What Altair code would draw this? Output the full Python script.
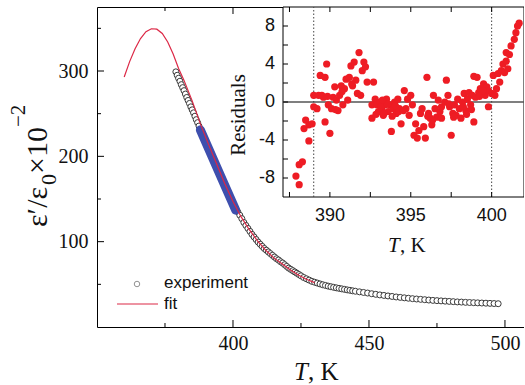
import altair as alt
import pandas as pd

# ---------------- main panel data ----------------
exp_T = [379.0, 379.5, 380.0, 380.5, 381.0, 381.5, 382.0, 382.5, 383.0, 383.5,
         384.0, 384.5, 385.0, 385.5, 386.0, 386.5, 387.0, 387.5, 388.0,
         389.5, 391.0, 392.5, 394.0, 395.5, 397.0, 398.5, 400.0,
         401.0, 401.75, 402.5, 403.25, 404.0, 404.75, 405.5, 406.25, 407.0, 407.75,
         408.5, 409.25, 410.0, 410.75, 411.5, 412.25, 413.0, 413.75, 414.5, 415.25,
         416.0, 416.75, 417.5, 418.25, 419.0, 419.75, 420.5, 421.25, 422.0, 422.75,
         423.5, 424.25, 425.0,
         426.0, 427.0, 428.0, 429.0, 430.0, 431.0, 432.0, 433.0, 434.0, 435.0,
         436.0, 437.0, 438.0, 439.0, 440.0, 441.0, 442.0, 443.0, 444.0, 445.0,
         446.5, 448.0, 449.5, 451.0, 452.5, 454.0, 455.5, 457.0, 458.5, 460.0,
         461.5, 463.0, 464.5, 466.0, 467.5, 469.0, 470.5, 472.0, 473.5, 475.0,
         476.5, 478.0, 479.5, 481.0, 482.5, 484.0, 485.5, 487.0, 488.5, 490.0,
         491.5, 493.0, 494.5, 496.0, 497.5]
exp_eps = [299, 295, 291.5, 288, 284, 280.5, 277, 273, 269, 265.5,
           262, 258, 254.5, 251, 247, 243, 239.5, 235.5, 231.5,
           220, 209, 198, 188, 177, 166, 155, 145,
           139, 135, 131, 127, 122.5, 119, 115.5, 112, 108.5, 105.5,
           102.5, 99.5, 97, 94.5, 92, 90, 88, 86, 84, 82,
           80, 78.5, 76.5, 75, 73, 71, 69, 67.5, 66, 64.5,
           63, 61.5, 60,
           58, 56.5, 55, 53.5, 52.5, 51.5, 50.5, 49.5, 48.7, 47.9,
           47.2, 46.5, 45.9, 45.3, 44.7, 44.1, 43.5, 43, 42.4, 41.9,
           41.2, 40.5, 39.8, 39, 38.3, 37.6, 37, 36.4, 35.8, 35.2,
           34.7, 34.2, 33.7, 33.2, 32.8, 32.4, 32, 31.6, 31.2, 30.9,
           30.6, 30.3, 30, 29.7, 29.4, 29.2, 28.9, 28.7, 28.5, 28.3,
           28.1, 27.9, 27.7, 27.5, 27.3]

band_T = [388.0, 392.0, 396.0, 401.0]
band_eps = [231, 202, 173, 137]

fit_T = [360, 362, 364, 366, 368, 370, 372, 374, 376, 378, 380, 382, 385, 388,
         391, 394, 397, 400, 403, 406, 409, 412, 415, 418, 421, 424, 427, 430]
fit_eps = [293, 311, 326, 338, 346, 349.5, 349, 344, 334, 320, 303, 289, 265, 238,
           214, 191, 168, 147, 129, 114, 101, 90, 81, 74, 67, 61, 56, 52]

x_major = [400, 450, 500]
x_minor = [375, 425, 475]
y_major = [100, 200, 300]
y_minor = [50, 150, 250, 350]

legend_labels = ["experiment", "fit"]

# ---------------- inset (residuals) data ----------------
res_T = [387.9, 388.1, 388.1, 388.3, 388.4, 388.5, 388.7, 388.7, 388.9, 389.0,
         389.0, 389.2, 389.3, 389.4, 389.5, 389.6, 389.7, 389.7, 389.8, 389.9,
         390.0, 390.1, 390.2, 390.3, 390.4, 390.5, 390.6, 390.7, 390.8, 390.9,
         391.0, 391.1, 391.2, 391.3, 391.4, 391.5, 391.6, 391.7, 391.8, 391.9,
         392.0, 392.1, 392.2, 392.3, 392.6, 392.6, 392.7, 392.8, 392.9, 393.0,
         393.1, 393.2, 393.3, 393.4, 393.5, 393.6, 393.7, 393.8, 393.9, 394.0,
         394.1, 394.2, 394.3, 394.4, 394.6, 394.7, 394.8, 394.9, 395.0, 395.1,
         395.2, 395.3, 395.4, 395.5, 395.6, 395.7, 395.8, 395.9, 396.0, 396.1,
         396.2, 396.3, 396.4, 396.5, 396.6, 396.7, 396.8, 396.9, 396.9, 397.1,
         397.2, 397.3, 397.4, 397.5, 397.6, 397.7, 397.8, 397.9, 398.0, 398.1,
         398.2, 398.3, 398.4, 398.5, 398.6, 398.7, 398.8, 398.9, 398.9, 399.0,
         399.1, 399.2, 399.3, 399.5, 399.6, 399.7, 399.8, 399.8, 400.0, 400.1,
         400.2, 400.3, 400.4, 400.5, 400.6, 400.7, 400.8, 400.9, 400.9, 401.0,
         401.1, 401.2, 401.4, 401.5, 401.6, 401.7,
         393.15, 393.35, 393.55, 393.85, 394.05, 394.25, 393.25, 392.85, 394.55,
         396.35, 396.05, 397.35, 397.65, 398.25, 398.45, 398.75, 399.25, 399.45,
         390.35, 390.75, 391.35, 389.85]
res_val = [-7.8, -8.7, -6.6, -6.3, -2.8, -1.9, -2.4, -4.1, -2.3, 0.7,
           -0.5, -0.7, 0.7, 2.8, 0.7, 0.5, 2.6, -2.1, 4.0, -0.3,
           -3.3, -0.7, 0.5, 1.6, 0.2, -0.9, 0.7, 1.7, -0.3, 1.4,
           2.4, 0.2, 2.6, 3.8, 1.7, 4.2, 2.3, 0.9, 5.2, 0.7,
           3.3, 4.2, 3.7, 2.1, -0.3, -1.7, 2.1, 0.3, -0.3, -1.0,
           0.0, -0.7, -1.4, -0.3, 0.3, -1.0, -0.3, -3.1, -0.7, 0.0,
           -1.2, 0.3, -0.7, -2.3, 1.2, -0.7, 0.3, -1.4, 0.7, -0.3,
           -3.5, -2.3, -3.8, -3.0, -1.2, -0.7, -2.6, -3.8, 2.6, -1.2,
           -1.7, -2.4, 0.7, -0.7, -1.6, 0.2, -1.0, -0.5, -1.7, 0.0,
           2.3, 0.7, -0.5, -3.5, -1.2, -0.3, -1.4, 0.3, -0.7, -1.7,
           0.0, 0.9, -0.9, 0.3, 1.0, -0.3, 0.7, 2.7, -2.1, 0.5,
           2.6, 1.0, 1.4, 1.9, 0.7, 1.6, 1.2, -0.5, 0.9, 2.8,
           0.7, 1.4, 3.0, 2.1, 3.3, 4.0, 3.1, 4.3, 5.2, 3.5,
           5.0, 5.9, 6.6, 7.3, 8.0, 8.3,
           -0.5, -1.2, -0.2, -1.5, -0.4, -1.0, 0.2, -1.3, -0.9,
           -1.9, -1.5, -0.2, -1.6, -0.5, -1.3, -0.8, 0.6, 1.2,
           -0.8, 1.1, 1.9, 0.6]

inset_x_domain = [387.1, 402.0]
inset_y_domain = [-10, 10]
inset_x_ticks = [387.5, 390, 392.5, 395, 397.5, 400]
inset_x_labels = [390, 395, 400]
inset_y_ticks = [-8, -6, -4, -2, 0, 2, 4, 6, 8]
inset_y_labels = [-8, -4, 0, 4, 8]
inset_y_label_text = ["-8", "-4", "0", "4", "8"]
dotted_T = [389.0, 400.0]

# ---------------- layout constants ----------------
W, H = 427, 320
IX0, IX1 = 186, 427      # inset pixel range inside plot area
IY0, IY1 = 0, 190

SERIF = "Liberation Serif"
SANS = "Liberation Sans"
RED_FIT = "#dc2846"
RED_DOT = "#ee1c24"
BLUE = "#3e4fae"
CIRC = "#3a3a3a"

xs = alt.Scale(domain=[350, 507])
ys = alt.Scale(domain=[0, 375])
x_axis = alt.Axis(values=x_major, ticks=False, tickSize=0, domain=False, grid=False,
                  labelFont=SERIF, labelFontSize=20, labelColor="#111",
                  labelPadding=6, title=None)
y_axis = alt.Axis(values=y_major, ticks=False, tickSize=0, domain=False, grid=False,
                  labelFont=SERIF, labelFontSize=20, labelColor="#111",
                  labelPadding=9, title=None)


def MX(f):
    return alt.X(f, type="quantitative", scale=xs, axis=x_axis)


def MY(f):
    return alt.Y(f, type="quantitative", scale=ys, axis=y_axis)


exp_df = pd.DataFrame({"T": exp_T, "eps": exp_eps})
band_df = pd.DataFrame({"T": band_T, "eps": band_eps})
fit_df = pd.DataFrame({"T": fit_T, "eps": fit_eps})

exp_layer = alt.Chart(exp_df).mark_point(
    shape="circle", size=36, filled=False, fill="white", fillOpacity=1,
    stroke=CIRC, strokeWidth=1, opacity=1
).encode(x=MX("T"), y=MY("eps"))

band_layer = alt.Chart(band_df).mark_line(
    color=BLUE, strokeWidth=9, strokeCap="round"
).encode(x=MX("T"), y=MY("eps"))

fit_layer = alt.Chart(fit_df).mark_line(
    color=RED_FIT, strokeWidth=1.2
).encode(x=MX("T"), y=MY("eps"))

xmaj_df = pd.DataFrame({"v": x_major})
xmin_df = pd.DataFrame({"v": x_minor})
ymaj_df = pd.DataFrame({"v": y_major})
ymin_df = pd.DataFrame({"v": y_minor})


def xticks(df, L):
    bot = alt.Chart(df).mark_rule(color="black", strokeWidth=1).encode(
        x=MX("v"), y=alt.value(H), y2=alt.value(H - L))
    top = alt.Chart(df).mark_rule(color="black", strokeWidth=1).encode(
        x=MX("v"), y=alt.value(0), y2=alt.value(L))
    return [bot, top]


def yticks(df, L):
    left = alt.Chart(df).mark_rule(color="black", strokeWidth=1).encode(
        y=MY("v"), x=alt.value(0), x2=alt.value(L))
    return [left]


tick_layers = xticks(xmaj_df, 7) + xticks(xmin_df, 4) + yticks(ymaj_df, 7) + yticks(ymin_df, 4)

# legend
leg_circle = alt.Chart(pd.DataFrame({"label": [legend_labels[0]]})).mark_point(
    shape="circle", size=30, filled=False, stroke="#666666", strokeWidth=1
).encode(x=alt.value(40), y=alt.value(277))
leg_line = alt.Chart(pd.DataFrame({"label": [legend_labels[1]]})).mark_rule(
    color=RED_FIT, strokeWidth=1.2
).encode(x=alt.value(20), x2=alt.value(61), y=alt.value(297))
leg_text1 = alt.Chart(pd.DataFrame({"label": [legend_labels[0]]})).mark_text(
    font=SANS, fontSize=17, align="left", baseline="middle", color="#111"
).encode(x=alt.value(67), y=alt.value(276), text="label:N")
leg_text2 = alt.Chart(pd.DataFrame({"label": [legend_labels[1]]})).mark_text(
    font=SANS, fontSize=17, align="left", baseline="middle", color="#111"
).encode(x=alt.value(67), y=alt.value(297), text="label:N")


def txt(s, x, y, size, font=SERIF, style="normal", angle=0, align="left", baseline="alphabetic"):
    kw = dict(font=font, fontSize=size, align=align, baseline=baseline, color="#111")
    if style != "normal":
        kw["fontStyle"] = style
    if angle:
        kw["angle"] = angle
    return alt.Chart(pd.DataFrame({"s": [s]})).mark_text(**kw).encode(
        x=alt.value(x), y=alt.value(y), text="s:N")


# y title pieces (rotated)
ytitle = [
    txt("ε′/ε", -50, 220, 30, angle=270),
    txt("0", -41, 178, 22, angle=270),
    txt("×10", -50, 167, 30, angle=270),
    txt("−2", -72, 120, 21, angle=270),
]
# x title
xtitle = [
    txt("T", 197, 373, 25, style="italic"),
    txt(", K", 211, 373, 25),
]

main = alt.layer(exp_layer, band_layer, fit_layer, *tick_layers,
                 leg_circle, leg_line, leg_text1, leg_text2, *ytitle, *xtitle)

# ---------------- inset ----------------
ixs = alt.Scale(domain=inset_x_domain, range=[IX0, IX1])
iys = alt.Scale(domain=inset_y_domain, range=[IY1, IY0])


def IX(f):
    return alt.X(f, type="quantitative", scale=ixs, axis=None)


def IY(f):
    return alt.Y(f, type="quantitative", scale=iys, axis=None)


dom_df = pd.DataFrame({"x0": [inset_x_domain[0]], "x1": [inset_x_domain[1]],
                       "y0": [inset_y_domain[0]], "y1": [inset_y_domain[1]]})
inset_bg = alt.Chart(dom_df).mark_rect(fill="white", stroke="black", strokeWidth=1).encode(
    x=IX("x0"), x2="x1", y=IY("y0"), y2="y1")

zero_df = pd.DataFrame({"x0": [inset_x_domain[0]], "x1": [inset_x_domain[1]], "z": [0]})
zero_line = alt.Chart(zero_df).mark_rule(color="#555555", strokeWidth=1.5).encode(
    x=IX("x0"), x2="x1", y=IY("z"))

dot_df = pd.DataFrame({"T": dotted_T, "y0": [inset_y_domain[0]] * 2, "y1": [inset_y_domain[1]] * 2})
dotted = alt.Chart(dot_df).mark_rule(color="#444444", strokeWidth=1, strokeDash=[1.5, 2]).encode(
    x=IX("T"), y=IY("y0"), y2="y1")

res_df = pd.DataFrame({"T": res_T, "r": res_val})
res_pts = alt.Chart(res_df).mark_circle(size=52, color=RED_DOT, opacity=1).encode(
    x=IX("T"), y=IY("r"))

ixt_df = pd.DataFrame({"v": inset_x_ticks})
iyt_df = pd.DataFrame({"v": inset_y_ticks})
in_ticks = [
    alt.Chart(ixt_df).mark_rule(color="black").encode(x=IX("v"), y=alt.value(IY1), y2=alt.value(IY1 - 5)),
    alt.Chart(ixt_df).mark_rule(color="black").encode(x=IX("v"), y=alt.value(IY0), y2=alt.value(IY0 + 5)),
    alt.Chart(iyt_df).mark_rule(color="black").encode(y=IY("v"), x=alt.value(IX0), x2=alt.value(IX0 + 5)),
]

ixl_df = pd.DataFrame({"v": inset_x_labels, "s": [str(v) for v in inset_x_labels]})
iyl_df = pd.DataFrame({"v": inset_y_labels, "s": inset_y_label_text})
in_labels = [
    alt.Chart(ixl_df).mark_text(font=SANS, fontSize=18, align="center", baseline="alphabetic", color="#111").encode(
        x=IX("v"), y=alt.value(IY1 + 24), text="s:N"),
    alt.Chart(iyl_df).mark_text(font=SANS, fontSize=18, align="right", baseline="middle", color="#111").encode(
        y=IY("v"), x=alt.value(IX0 - 8), text="s:N"),
]

in_titles = [
    txt("Residuals", 148, 108, 21, angle=270, align="center"),
    txt("T", 291, 245, 21, style="italic"),
    txt(", K", 303, 245, 21),
]

inset = alt.layer(inset_bg, zero_line, dotted, res_pts, *in_ticks, *in_labels, *in_titles)

chart = alt.layer(main, inset).resolve_scale(x="independent", y="independent").properties(
    width=W, height=H,
    padding={"left": 97, "top": 7, "right": 0, "bottom": 58},
    autosize=alt.AutoSizeParams(type="none"),
    background="white",
).configure_view(stroke="black", strokeWidth=1)

chart.save("out.html", embed_options={"renderer": "svg", "actions": False})
